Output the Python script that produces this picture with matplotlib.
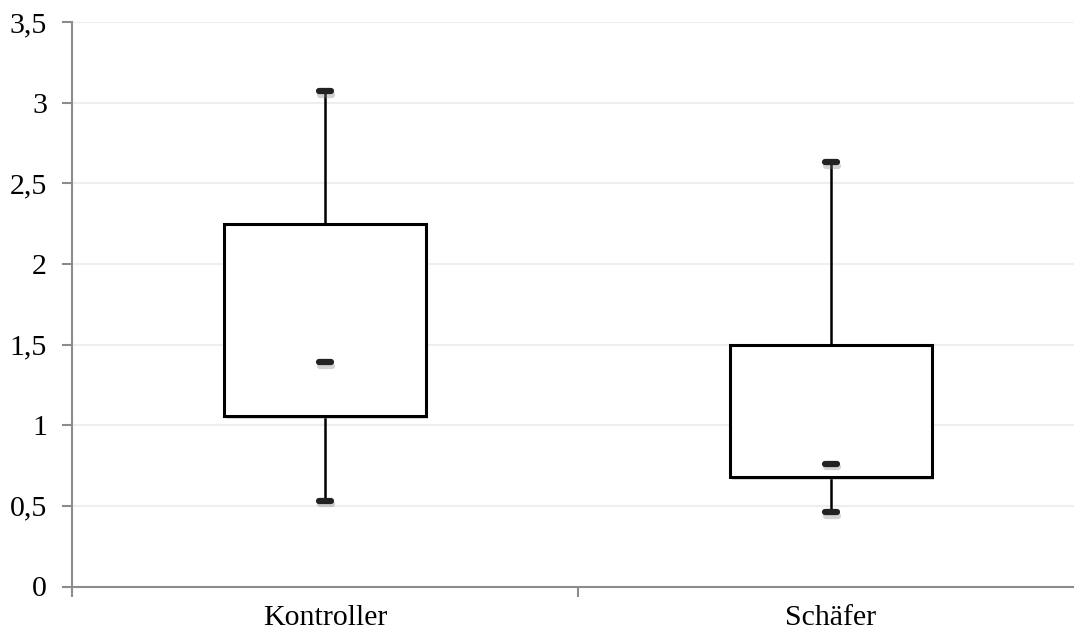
import matplotlib
matplotlib.use('Agg')
import matplotlib.pyplot as plt
import matplotlib.patheffects as pe
from matplotlib.ticker import FuncFormatter

plt.rcParams['font.family'] = ['Liberation Serif', 'DejaVu Serif']

# Werte
GRUPPEN = ['Kontroller', 'Schäfer']
MINIMUM = [0.53, 0.46]
Q1 = [1.06, 0.68]
MEDIAN = [1.39, 0.76]
Q3 = [2.25, 1.50]
MAXIMUM = [3.07, 2.63]

stats = []
for i, g in enumerate(GRUPPEN):
    stats.append({'label': g, 'whislo': MINIMUM[i], 'q1': Q1[i], 'med': MEDIAN[i],
                  'q3': Q3[i], 'whishi': MAXIMUM[i]})

fig = plt.figure(figsize=(10.74, 6.34), dpi=100)
ax = fig.add_axes([72 / 1074, 1 - 586.5 / 634, (1084 - 72) / 1074, (586.5 - 22) / 634])

pos = [0.5, 1.5]
schatten = [pe.SimplePatchShadow(offset=(1.5, -2.5), shadow_rgbFace='0.6', alpha=0.35), pe.Normal()]
lschatten = [pe.SimpleLineShadow(offset=(0.5, -2.5), shadow_color='0.5', alpha=0.35), pe.Normal()]

bp = ax.bxp(stats, positions=pos, widths=0.40, patch_artist=True, showcaps=False,
            showfliers=False,
            boxprops=dict(facecolor='white', edgecolor='black', linewidth=2.2),
            whiskerprops=dict(color='black', linewidth=1.8),
            medianprops=dict(linewidth=0))
for b in bp['boxes']:
    b.set_path_effects(schatten)
    b.set_zorder(3)
for w in bp['whiskers']:
    w.set_zorder(2)

# Kappen und Median als kurze dicke Striche
for x, lo, hi, med in zip(pos, MINIMUM, MAXIMUM, MEDIAN):
    for y in (lo, hi, med):
        ln, = ax.plot([x - 0.012, x + 0.012], [y, y], color='#222222', linewidth=4.5,
                      solid_capstyle='round', zorder=4)
        ln.set_path_effects(lschatten)

ax.set_xlim(0, 2)
ax.set_ylim(0, 3.5)
ax.set_yticks([0, 0.5, 1, 1.5, 2, 2.5, 3, 3.5])
ax.yaxis.set_major_formatter(FuncFormatter(lambda v, p: f'{v:g}'.replace('.', ',')))
ax.set_xticks(pos)
ax.set_xticklabels(GRUPPEN)
ax.set_xticks([0, 1, 2], minor=True)
ax.tick_params(axis='x', which='major', length=0, pad=13, labelsize=21.5)
ax.tick_params(axis='x', which='minor', length=7, width=1.5, color='#8c8c8c')
ax.tick_params(axis='y', length=7, width=1.5, color='#8c8c8c', pad=11, labelsize=21.5)

ax.grid(axis='y', color='#eeeeee', linewidth=1.5)
ax.set_axisbelow(True)
for s in ['top', 'right']:
    ax.spines[s].set_visible(False)
for s in ['left', 'bottom']:
    ax.spines[s].set_color('#8c8c8c')
    ax.spines[s].set_linewidth(1.5)

fig.savefig('out.png', dpi=100)
